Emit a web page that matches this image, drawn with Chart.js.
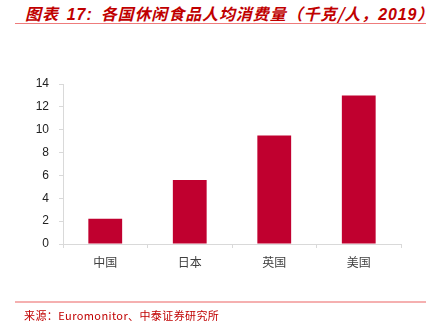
<!DOCTYPE html>
<html>
<head>
<meta charset="utf-8">
<script src="https://cdn.jsdelivr.net/npm/chart.js@4/dist/chart.umd.min.js"></script>
<style>
  html, body { margin: 0; padding: 0; background: #fff; width: 426px; height: 328px; overflow: hidden; }
  #wrap { position: relative; width: 426px; height: 328px; }
  #title {
    position: absolute; left: 25px; top: 3px; white-space: nowrap;
    font-family: "Noto Sans CJK SC", "Liberation Sans", sans-serif;
    font-size: 16px; font-weight: bold; font-style: italic; color: #C00000; line-height: 20px;
    letter-spacing: 0.9px;
  }
  #title .num { font-family: "Liberation Sans", Arial, sans-serif; }
  #title .gap { display: inline-block; width: 8px; }
  #topline { position: absolute; left: 15px; width: 411px; top: 23px; height: 1px; background: #EE7B7B; }
  #botline { position: absolute; left: 15px; width: 411px; top: 301px; height: 2px; background: #F5B0B0; }
  #source {
    position: absolute; left: 24px; top: 307px; white-space: nowrap;
    font-family: "Noto Sans CJK SC", sans-serif; font-size: 11px; color: #C00000; line-height: 16px;
    letter-spacing: 0.4px;
  }
  canvas { position: absolute; left: 0; top: 0; }
</style>
</head>
<body>
<div id="wrap">
  <div id="title">图表<span class="gap"></span><span class="num">17:</span><span class="gap"></span>各国休闲食品人均消费量（千克/人，<span class="num">2019</span>）</div>
  <div id="topline"></div>
  <canvas id="c" width="426" height="328"></canvas>
  <div id="botline"></div>
  <div id="source">来源：Euromonitor、中泰证券研究所</div>
</div>
<script>
// 2019 snack food consumption per capita, kg/person
const countries = ['中国', '日本', '英国', '美国'];
const consumptionKg = [2.2, 5.6, 9.5, 13.0];
const yTicks = [0, 2, 4, 6, 8, 10, 12, 14];

const axisGrey = '#D9D9D9';
const labelFont = { family: '"Liberation Sans", Arial, sans-serif', size: 12 };

new Chart(document.getElementById('c'), {
  type: 'bar',
  data: {
    labels: countries,
    datasets: [{
      data: consumptionKg,
      backgroundColor: '#C0002F',
      borderWidth: 0,
      barPercentage: 0.4,
      categoryPercentage: 1.0
    }]
  },
  options: {
    responsive: false,
    animation: false,
    devicePixelRatio: 1,
    layout: { padding: { left: 0, right: 25, top: 84, bottom: 0 } },
    plugins: { legend: { display: false }, tooltip: { enabled: false }, title: { display: false } },
    scales: {
      x: {
        grid: { display: true, drawOnChartArea: false, drawTicks: true, tickLength: 4, color: axisGrey, offset: true },
        border: { display: true, color: axisGrey, width: 1 },
        ticks: {
          color: '#404040', padding: 7,
          font: { family: '"Noto Sans CJK SC", sans-serif', size: 12 }
        },
        afterFit: (s) => { s.height = 84; }
      },
      y: {
        min: 0, max: 14,
        afterBuildTicks: (s) => { s.ticks = yTicks.map(v => ({ value: v })); },
        grid: { display: true, drawOnChartArea: false, drawTicks: true, tickLength: 4, color: axisGrey },
        border: { display: true, color: axisGrey, width: 1 },
        ticks: { color: '#222222', padding: 10, font: labelFont },
        afterFit: (s) => { s.width = 63; }
      }
    }
  }
});
</script>
</body>
</html>
